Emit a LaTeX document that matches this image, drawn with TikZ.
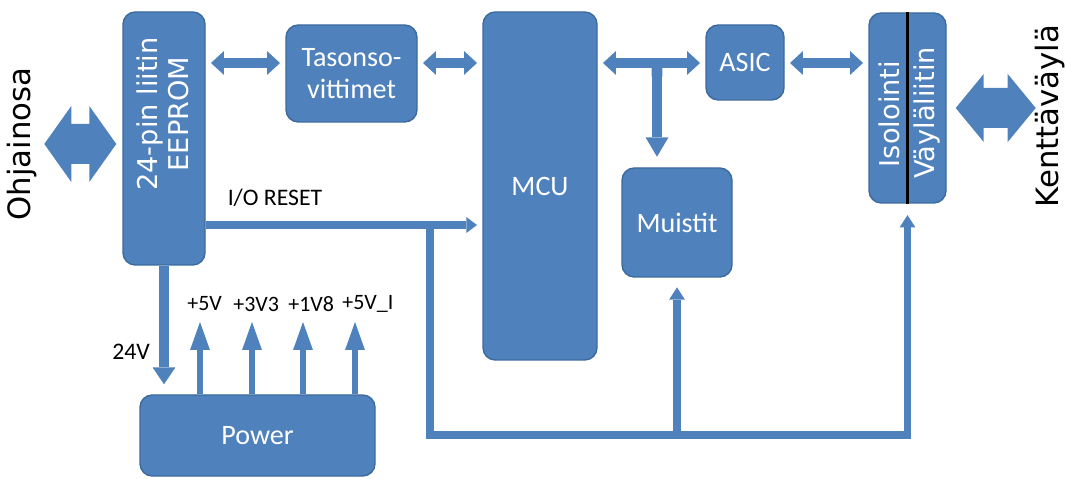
\documentclass[tikz,border=0pt]{standalone}
\usepackage{fontspec}
\setmainfont{Carlito}
\newfontfamily\rotfont{DejaVu Sans}
\usetikzlibrary{arrows.meta,calc}

\definecolor{boxblue}{HTML}{4F81BD}
\definecolor{boxedge}{HTML}{3C6A9C}

\tikzset{
  blok/.style={draw=boxedge, fill=boxblue, line width=0.8pt, rounded corners=7pt,
    text=white, inner sep=0pt, align=center, font=\fontsize{16}{18.5}\selectfont},
  vtext/.style={rotate=90, text=white, align=center, inner sep=0pt,
    font=\rotfont\fontsize{15.5}{17.5}\selectfont},
  sidetext/.style={rotate=90, inner sep=0pt, font=\rotfont\fontsize{17.5}{20}\selectfont},
  lbl/.style={inner sep=0pt, font=\fontsize{13.5}{16}\selectfont},
  % paksut nuolet lohkojen valilla
  bus/.style={boxblue, line width=6.2pt, shorten <=3pt, shorten >=3pt,
    {Triangle[length=7.4pt,width=13.6pt,line width=0pt]}-{Triangle[length=7.4pt,width=13.6pt,line width=0pt]}},
  wire/.style={boxblue, line width=4pt},
  wirehead/.style={-{Triangle[length=6pt,width=9pt,line width=0pt]}},
  pwr/.style={boxblue, line width=3.4pt, -{Triangle[length=15.9pt,width=11.3pt,line width=0pt]}}
}

\begin{document}
\begin{tikzpicture}[x=0.02cm, y=-0.02cm]
  \useasboundingbox (0,0) rectangle (1065,479);

  % lohkot
  \node[blok, minimum width=82*0.02cm, minimum height=253*0.02cm] (eeprom) at (164,138.5) {};
  \node[vtext] (eepromtxt) at (163,114) {24-pin liitin\\EEPROM};
  \node[blok, minimum width=131*0.02cm, minimum height=97*0.02cm] (taso) at (351.5,73.5) {Tasonso-\\vittimet};
  \node[blok, minimum width=114*0.02cm, minimum height=348*0.02cm] (mcu) at (540,186) {MCU};
  \node[blok, minimum width=110*0.02cm, minimum height=109*0.02cm] (muistit) at (677,222.5) {Muistit};
  \node[blok, minimum width=78*0.02cm, minimum height=75*0.02cm] (asic) at (745,62.5) {ASIC};
  \node[blok, minimum width=77*0.02cm, minimum height=190*0.02cm] (iso) at (907.5,108) {};
  \node[vtext] (isotxt) at (889,114) {Isolointi};
  \node[vtext] (vaylatxt) at (927,113) {Väyläliitin};
  \draw[black, line width=1.4pt] (iso.north) -- (iso.south);
  \node[blok, minimum width=235*0.02cm, minimum height=81*0.02cm] (power) at (257.5,435.5) {Power};

  % reunojen tekstit
  \node[sidetext] (ohj) at (22,144) {Ohjainosa};
  \node[sidetext] (kv) at (1050,116) {Kenttäväylä};

  % leveat kaksisuuntaiset nuolet reunoilla
  \fill[boxblue] ($(ohj -| eeprom.west)+(-6,0)$) -- ++(-27,-38) -- ++(0,18) -- ++(-18,0)
    -- ++(0,-18) -- ++(-27,38) -- ++(27,38) -- ++(0,-18) -- ++(18,0) -- ++(0,18) -- cycle;
  \fill[boxblue] ($(iso.east)+(9,0)$) -- ++(28,-34) -- ++(0,14) -- ++(24,0)
    -- ++(0,-14) -- ++(28,34) -- ++(-28,34) -- ++(0,-14) -- ++(-24,0) -- ++(0,14) -- cycle;

  % vayla ylhaalla
  \coordinate (row) at (0,63);
  \coordinate (split) at (657,63);
  \draw[bus] (eeprom.east |- row) -- (taso.west |- row);
  \draw[bus] (taso.east |- row) -- (mcu.west |- row);
  \draw[bus] (mcu.east |- row) -- (asic.west |- row);
  \draw[bus] (asic.east |- row) -- (iso.west |- row);
  \draw[bus, {Butt Cap}-{Triangle[length=11pt,width=13pt,line width=0pt]}, shorten <=0pt, shorten >=6pt]
    (split) -- (split |- muistit.north);

  % I/O RESET ja jakelu
  \coordinate (tap) at (430,225);
  \coordinate (busl) at (430,435);
  \draw[wire, wirehead, shorten >=3pt] (eeprom.east |- tap) -- (mcu.west |- tap);
  \draw[wire, -{Triangle[length=7pt,width=9pt,line width=0pt]}, shorten >=6.5pt]
    (tap) |- (iso.south |- busl) -- (iso.south);
  \draw[wire, -{Triangle[length=7pt,width=9pt,line width=0pt]}, shorten >=5.5pt]
    (muistit.south |- busl) -- (muistit.south);
  \node[lbl] (iolbl) at (275,198) {I/O RESET};

  % teholahde
  \draw[boxblue, line width=5.7pt, -{Triangle[length=9.6pt,width=13pt,line width=0pt]}, shorten >=5.7pt]
    (eeprom.south) -- (eeprom.south |- power.north);
  \node[lbl] (v24) at (131,352) {24V};
  \foreach \x/\lx/\v/\n in {200/187/+5V/v5, 252/233/+3V3/v33, 303/288/+1V8/v18, 355/342/+5V\_I/v5i} {
    \coordinate (\n) at (\x,322);
    \draw[pwr] (power.north -| \n) -- (\n);
    \node[lbl, anchor=west, font=\fontsize{12.5}{15}\selectfont] (\n lbl) at (\lx,304) {\v};
  }

\end{tikzpicture}
\end{document}
